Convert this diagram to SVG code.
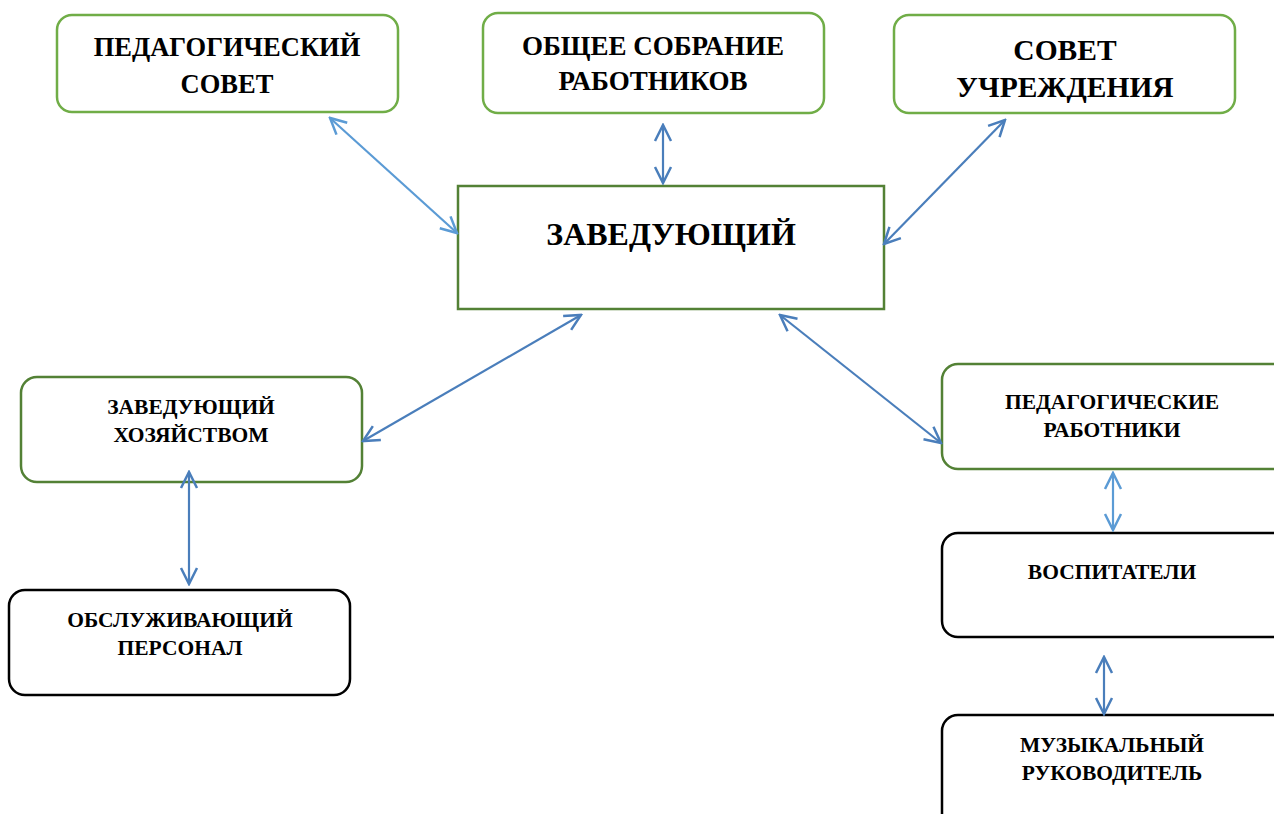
<svg xmlns="http://www.w3.org/2000/svg" width="1274" height="814" viewBox="0 0 1274 814">
<style>
.bx{fill:#fff;stroke-width:2.5}
.lg{stroke:#70AD47}
.dg{stroke:#538135}
.bk{stroke:#000}
text{font-family:"Liberation Serif","Times New Roman",serif;font-weight:bold;fill:#000;text-anchor:middle}
.c1{stroke:#5B9BD5;stroke-width:2.2;fill:none}
.c2{stroke:#4A7EBB;stroke-width:2.2;fill:none}
</style>
<defs>
<marker id="a1" viewBox="0 0 20 20" refX="18" refY="10" markerWidth="20" markerHeight="20" markerUnits="userSpaceOnUse" orient="auto-start-reverse">
<path d="M2,2 L18,10 L2,18" fill="none" stroke="#5B9BD5" stroke-width="2.5"/>
</marker>
<marker id="a2" viewBox="0 0 20 20" refX="18" refY="10" markerWidth="20" markerHeight="20" markerUnits="userSpaceOnUse" orient="auto-start-reverse">
<path d="M2,2 L18,10 L2,18" fill="none" stroke="#4A7EBB" stroke-width="2.5"/>
</marker>
</defs>
<rect width="1274" height="814" fill="#fff"/>
<g id="ped-sovet">
<rect class="bx lg" x="57" y="15" width="341" height="97" rx="15"/>
<text x="227" y="56" font-size="26.5">ПЕДАГОГИЧЕСКИЙ</text>
<text x="227" y="93" font-size="26.5">СОВЕТ</text>
</g>
<g id="obshchee">
<rect class="bx lg" x="483" y="13" width="341" height="100" rx="15"/>
<text x="653" y="55" font-size="27">ОБЩЕЕ СОБРАНИЕ</text>
<text x="653" y="90" font-size="27">РАБОТНИКОВ</text>
</g>
<g id="sovet-uchr">
<rect class="bx lg" x="894" y="15" width="341" height="98" rx="15"/>
<text x="1065" y="60" font-size="29.5">СОВЕТ</text>
<text x="1065" y="97" font-size="29.5">УЧРЕЖДЕНИЯ</text>
</g>
<g id="zaveduyushchiy">
<rect class="bx dg" x="458" y="186" width="426" height="123"/>
<text x="671" y="245" font-size="32">ЗАВЕДУЮЩИЙ</text>
</g>
<g id="zavhoz">
<rect class="bx dg" x="21" y="377" width="341" height="105" rx="16"/>
<text x="191" y="414" font-size="21.5">ЗАВЕДУЮЩИЙ</text>
<text x="191" y="442" font-size="21.5">ХОЗЯЙСТВОМ</text>
</g>
<g id="obsluzh">
<rect class="bx bk" x="9" y="590" width="341" height="105" rx="16"/>
<text x="180" y="627" font-size="21.5">ОБСЛУЖИВАЮЩИЙ</text>
<text x="180" y="655" font-size="21.5">ПЕРСОНАЛ</text>
</g>
<g id="ped-rab">
<rect class="bx dg" x="942" y="364" width="350" height="105" rx="16"/>
<text x="1112" y="409" font-size="21.5">ПЕДАГОГИЧЕСКИЕ</text>
<text x="1112" y="437" font-size="21.5">РАБОТНИКИ</text>
</g>
<g id="vospitateli">
<rect class="bx bk" x="942" y="533" width="350" height="104" rx="16"/>
<text x="1112" y="579" font-size="21.5">ВОСПИТАТЕЛИ</text>
</g>
<g id="muz-ruk">
<rect class="bx bk" x="942" y="715" width="350" height="120" rx="16"/>
<text x="1112" y="752" font-size="21.5">МУЗЫКАЛЬНЫЙ</text>
<text x="1112" y="780" font-size="21.5">РУКОВОДИТЕЛЬ</text>
</g>
<g id="connectors">
<line class="c1" x1="330" y1="118" x2="457" y2="233" marker-start="url(#a1)" marker-end="url(#a1)"/>
<line class="c2" x1="663" y1="125" x2="663" y2="183" marker-start="url(#a2)" marker-end="url(#a2)"/>
<line class="c2" x1="1005" y1="120" x2="884" y2="244" marker-start="url(#a2)" marker-end="url(#a2)"/>
<line class="c2" x1="581" y1="315" x2="363" y2="441" marker-start="url(#a2)" marker-end="url(#a2)"/>
<line class="c2" x1="780" y1="315" x2="941" y2="443" marker-start="url(#a2)" marker-end="url(#a2)"/>
<line class="c2" x1="189" y1="472" x2="189" y2="584" marker-start="url(#a2)" marker-end="url(#a2)"/>
<line class="c1" x1="1113" y1="473" x2="1113" y2="530" marker-start="url(#a1)" marker-end="url(#a1)"/>
<line class="c2" x1="1104" y1="657" x2="1104" y2="714" marker-start="url(#a2)" marker-end="url(#a2)"/>
</g>
</svg>
